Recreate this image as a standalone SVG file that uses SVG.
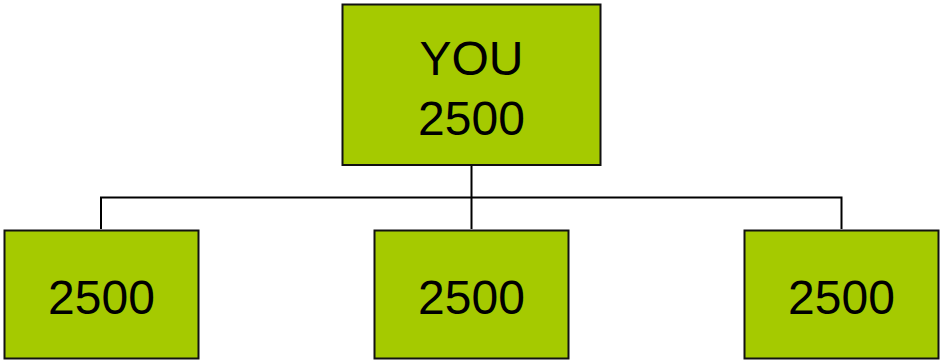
<svg xmlns="http://www.w3.org/2000/svg" width="940" height="360" viewBox="0 0 940 360">
<style>
.box{fill:#a5ca00;stroke:#111;stroke-width:2}
.t{font-family:"Liberation Sans",Arial,sans-serif;font-size:48px;fill:#000;text-anchor:middle}
.c{fill:none;stroke:#000;stroke-width:2}
</style>
<rect width="940" height="360" fill="#fff"/>
<g id="connectors">
<path class="c" d="M471.5 165V229M101 229V197.5H841.5V229"/>
</g>
<g id="you">
<rect class="box" x="342.5" y="4.5" width="258" height="160.5"/>
<text class="t" x="471.5" y="75">YOU</text>
<text class="t" x="471.5" y="135">2500</text>
</g>
<g id="child1">
<rect class="box" x="4.5" y="230.5" width="194" height="128"/>
<text class="t" x="101.5" y="313.5">2500</text>
</g>
<g id="child2">
<rect class="box" x="374.5" y="230.5" width="194" height="128"/>
<text class="t" x="471.5" y="313.5">2500</text>
</g>
<g id="child3">
<rect class="box" x="744.5" y="230.5" width="194" height="128"/>
<text class="t" x="841.5" y="313.5">2500</text>
</g>
</svg>
